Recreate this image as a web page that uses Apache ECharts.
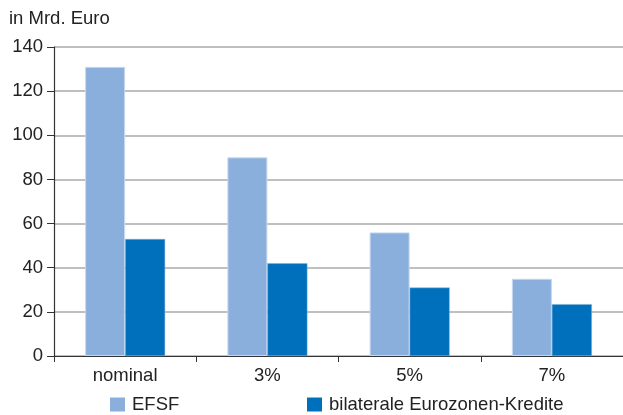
<!DOCTYPE html>
<html><head><meta charset="utf-8">
<script src="https://cdn.jsdelivr.net/npm/echarts@6/dist/echarts.min.js"></script>
<style>html,body{margin:0;padding:0;background:#fff}#c{width:623px;height:415px}</style>
</head><body><div id="c"></div>
<script>
const categories = ['nominal', '3%', '5%', '7%'];
const efsf = [131, 90, 56, 35];
const bilateral = [53, 42, 31, 23.5];
const seriesNames = ['EFSF', 'bilaterale Eurozonen-Kredite'];
const yTicks = [0, 20, 40, 60, 80, 100, 120, 140];
const unitLabel = 'in Mrd. Euro';

const FONT = 'Liberation Sans';
const FS = 18.5;
const legendText = {fontFamily: FONT, fontSize: FS, color: '#222', padding: [0, 0, 0, 2]};
const chart = echarts.init(document.getElementById('c'), null, {renderer: 'canvas'});
chart.setOption({
  animation: false,
  textStyle: {fontFamily: FONT},
  title: {text: unitLabel, left: 9, top: 9, padding: 0, textStyle: {fontFamily: FONT, fontSize: FS, fontWeight: 'normal', color: '#222'}},
  grid: {left: 54, top: 47, width: 572, height: 309, containLabel: false},
  legend: [
    {data: [seriesNames[0]], left: 110, top: 395, padding: 0, itemWidth: 15, itemHeight: 14, itemGap: 0, icon: 'rect',
     itemStyle: {borderWidth: 0}, textStyle: legendText},
    {data: [seriesNames[1]], left: 307, top: 395, padding: 0, itemWidth: 15, itemHeight: 14, itemGap: 0, icon: 'rect',
     itemStyle: {borderWidth: 0}, textStyle: legendText}
  ],
  xAxis: {
    type: 'category', data: categories,
    axisLine: {lineStyle: {color: '#333', width: 1.2}},
    axisTick: {show: true, length: 6, lineStyle: {color: '#333'}},
    axisLabel: {fontFamily: FONT, fontSize: FS, color: '#222', margin: 10}
  },
  yAxis: {
    type: 'value', min: 0, max: 140, interval: 20,
    axisLine: {show: true, lineStyle: {color: '#333', width: 1.2}},
    axisTick: {show: true, length: 7, lineStyle: {color: '#333'}},
    axisLabel: {fontFamily: FONT, fontSize: FS, color: '#222', margin: 11,
      formatter: v => yTicks.includes(v) ? String(v) : ''},
    splitLine: {show: true, lineStyle: {color: '#aaaaaa', width: 1.5}}
  },
  series: [
    {name: seriesNames[0], type: 'bar', data: efsf, barWidth: 40, barGap: '0%',
     itemStyle: {color: '#8aafdc', borderColor: '#c5d8ee', borderWidth: 1}},
    {name: seriesNames[1], type: 'bar', data: bilateral, barWidth: 40, barGap: '0%',
     itemStyle: {color: '#0070bd', borderColor: '#7fb0da', borderWidth: 0.5}}
  ]
});
</script></body></html>
